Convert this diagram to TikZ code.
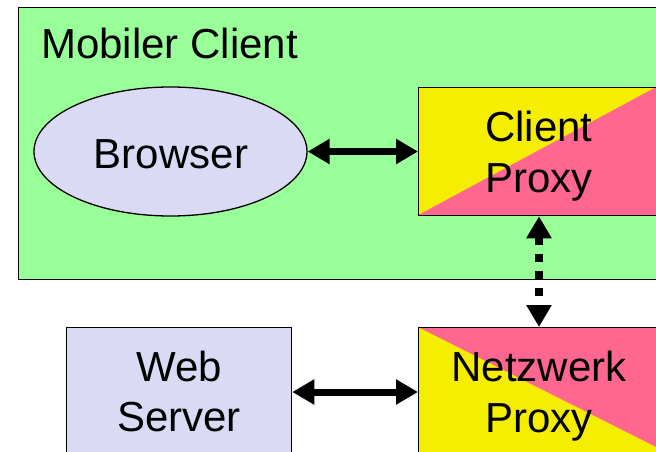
\documentclass[tikz,border=0pt]{standalone}
\usepackage{fontspec}
\setmainfont{Liberation Sans}
\usetikzlibrary{shapes.geometric,arrows.meta,calc}
\definecolor{mgreen}{RGB}{153,255,153}
\definecolor{myellow}{RGB}{245,238,0}
\definecolor{mpink}{RGB}{255,102,144}
\definecolor{mlav}{RGB}{218,218,245}
\tikzset{
  box/.style={draw=black, line width=1.3pt, inner sep=0pt, anchor=north west},
  lbl/.style={font=\fontsize{42}{51}\selectfont, align=center, inner sep=0pt},
  biarrow/.style={line width=7pt, {Triangle[length=22pt,width=24pt]}-{Triangle[length=22pt,width=24pt]}},
  dotarrow/.style={line width=7.5pt, dash pattern=on 8pt off 9pt, {Triangle[length=22pt,width=24pt]}-{Triangle[length=22pt,width=24pt]}}
}
\begin{document}
\begin{tikzpicture}[x=1pt,y=-1pt]
\useasboundingbox (0,0) rectangle (656,452);
\clip (0,0) rectangle (656,452);
% Mobiler Client container
\node[box, fill=mgreen, minimum width=680pt, minimum height=272pt] (mc) at (18,7) {};
\node[lbl, anchor=base west] (mct) at (41,59) {Mobiler Client};
% Browser
\node[ellipse, draw=black, line width=1.3pt, fill=mlav, minimum width=273pt, minimum height=129pt, inner sep=0pt] (br) at (170.5,151.5) {};
\node[lbl, anchor=base] (brt) at (171,168) {Browser};
% Client Proxy
\fill[mpink] (418,87) rectangle (680,215);
\fill[myellow] (418,87) -- (656,87) -- (418,215) -- cycle;
\node[box, minimum width=262pt, minimum height=128pt] (cp) at (418,87) {};
\node[lbl, anchor=base] (cpt1) at (539,141.7) {Client};
\node[lbl, anchor=base] (cpt2) at (539,192.7) {Proxy};
% Netzwerk Proxy
\fill[myellow] (418,327) rectangle (680,470);
\fill[mpink] (418,327) -- (680,327) -- (680,459) -- cycle;
\node[box, minimum width=262pt, minimum height=143pt] (np) at (418,327) {};
\node[lbl, anchor=base] (npt1) at (539,381.7) {Netzwerk};
\node[lbl, anchor=base] (npt2) at (539,432.7) {Proxy};
% Web Server
\node[box, fill=mlav, minimum width=225pt, minimum height=143pt] (ws) at (66,327) {};
\node[lbl, anchor=base] (wst1) at (179,381.7) {Web};
\node[lbl, anchor=base] (wst2) at (179,431.7) {Server};
% connectors
\coordinate (vx) at (539,0);
\coordinate (ay) at (0,392);
\draw[biarrow] (br.east) -- (br.east -| cp.west);
\draw[dotarrow] (cp.south -| vx) -- (np.north -| vx);
\draw[biarrow] (ws.east |- ay) -- (np.west |- ay);
\end{tikzpicture}
\end{document}
